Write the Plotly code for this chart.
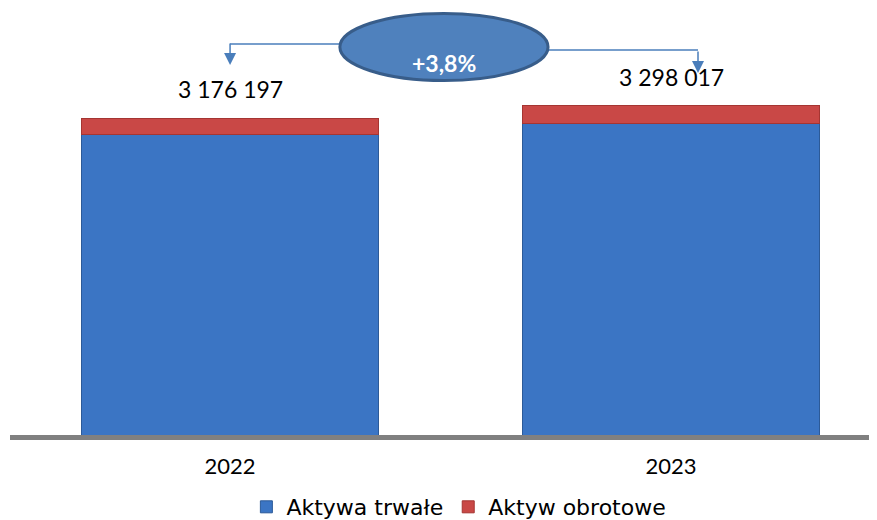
import plotly.graph_objects as go

years = ["2022", "2023"]
totals = [3176197, 3298017]
obrotowe = [168000, 176000]
trwale = [t - o for t, o in zip(totals, obrotowe)]

FONT = "Lato"
LEG_FONT = "DejaVu Sans"

def fmt(v):
    return f"{v:,}".replace(",", " ")

growth = (totals[1] / totals[0] - 1) * 100
growth_txt = f"+{growth:.1f}%".replace(".", ",")

fig = go.Figure()
fig.add_trace(go.Bar(
    x=years, y=trwale, name="Aktywa trwałe",
    marker=dict(color="#3b75c4", line=dict(color="#2c5a98", width=1)),
    width=0.675,
))
fig.add_trace(go.Bar(
    x=years, y=obrotowe, name="Aktyw obrotowe",
    marker=dict(color="#c94846", line=dict(color="#a53532", width=1)),
    width=0.675,
))

annotations = []
for i, (yr, tot) in enumerate(zip(years, totals)):
    annotations.append(dict(
        x=i, y=tot, xref="x", yref="y", text=fmt(tot), showarrow=False,
        yshift=29, font=dict(family=FONT, size=23, color="#000000"),
    ))

# growth bracket
arrow_col = "#4a7ebb"
left_x = 0.0
right_x = 1.061
ell_x0, ell_x1 = 0.249, 0.721
shapes = [
    dict(type="line", xref="x", yref="paper", x0=left_x, x1=ell_x0 + 0.01,
         y0=0.9376, y1=0.9376, line=dict(color=arrow_col, width=1.5)),
    dict(type="line", xref="x", yref="paper", x0=ell_x1 - 0.01, x1=right_x,
         y0=0.9233, y1=0.9233, line=dict(color=arrow_col, width=1.5)),
    dict(type="circle", xref="x", yref="paper", x0=ell_x0, x1=ell_x1,
         y0=0.850, y1=1.011, fillcolor="#4f81bd",
         line=dict(color="#385d8a", width=3)),
]
annotations.append(dict(
    x=left_x, y=0.8873, xref="x", yref="paper", ax=0, ay=-23, showarrow=True,
    arrowhead=2, arrowsize=1.6, arrowwidth=1.5, arrowcolor=arrow_col, text="",
))
annotations.append(dict(
    x=right_x, y=0.8681, xref="x", yref="paper", ax=0, ay=-23, showarrow=True,
    arrowhead=2, arrowsize=1.6, arrowwidth=1.5, arrowcolor=arrow_col, text="",
))
annotations.append(dict(
    x=(ell_x0 + ell_x1) / 2, y=0.930, xref="x", yref="paper", text=f"<b>{growth_txt}</b>",
    showarrow=False, font=dict(family=FONT, size=23, color="#ffffff"),
))

fig.update_layout(
    width=877, height=520,
    margin=dict(l=2, r=0, t=10, b=93, autoexpand=False),
    barmode="stack",
    paper_bgcolor="white", plot_bgcolor="white",
    showlegend=True,
    legend=dict(orientation="h", x=0.513, xanchor="center", y=-0.1727, yanchor="middle",
                traceorder="normal", font=dict(family=LEG_FONT, size=22, color="#000000"),
                itemwidth=30),
    xaxis=dict(type="category", range=[-0.499, 1.485], showline=True,
               linecolor="#808080", linewidth=5, ticks="outside", ticklen=8,
               tickcolor="rgba(0,0,0,0)", tickfont=dict(family=FONT, size=22, color="#000000"),
               showgrid=False, zeroline=False),
    yaxis=dict(range=[0, 4178100], visible=False, showgrid=False, zeroline=False),
    shapes=shapes,
    annotations=annotations,
)

fig.write_html("out.html")
